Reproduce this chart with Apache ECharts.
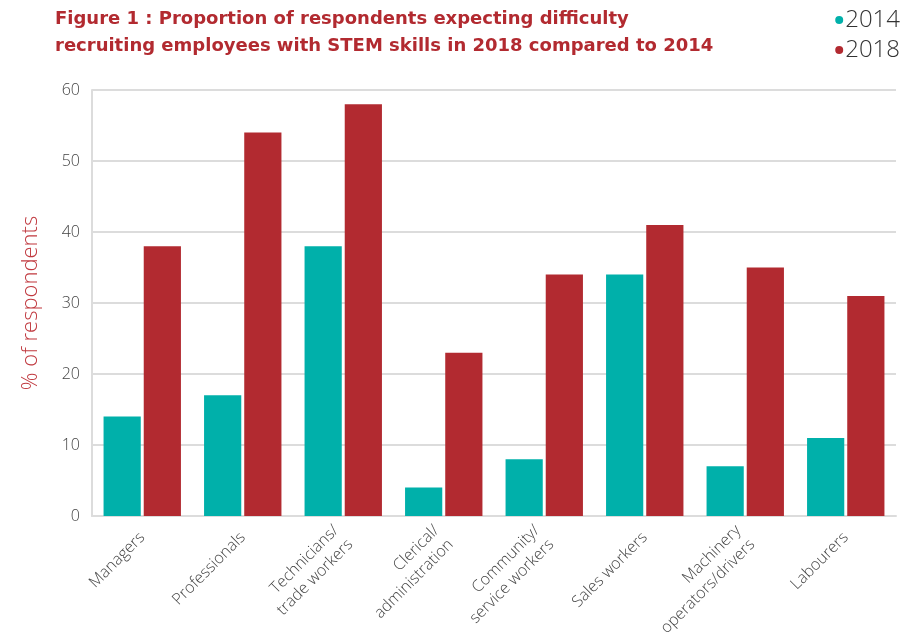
<!DOCTYPE html>
<html>
<head>
<meta charset="utf-8">
<script src="https://cdn.jsdelivr.net/npm/echarts@6/dist/echarts.min.js"></script>
<style>html,body{margin:0;padding:0;background:#fff}#c{width:917px;height:636px}</style>
</head>
<body>
<div id="c"></div>
<script>
const categories = ['Managers', 'Professionals', 'Technicians/\ntrade workers', 'Clerical/\nadministration', 'Community/\nservice workers', 'Sales workers', 'Machinery\noperators/drivers', 'Labourers'];
const values2014 = [14, 17, 38, 4, 8, 34, 7, 11];
const values2018 = [38, 54, 58, 23, 34, 41, 35, 31];
const yTicks = [0, 10, 20, 30, 40, 50, 60];

const chart = echarts.init(document.getElementById('c'));
chart.setOption({
  animation: false,
  title: {
    text: 'Figure 1 : Proportion of respondents expecting difficulty\nrecruiting employees with STEM skills in 2018 compared to 2014',
    left: 50, top: 1,
    textStyle: { fontFamily: 'DejaVu Sans', fontWeight: 'bold', fontSize: 18, lineHeight: 27, color: '#b22a30' }
  },
  legend: {
    orient: 'vertical', right: 12, top: 3,
    icon: 'circle', itemWidth: 8, itemHeight: 8, itemGap: 6, align: 'left',
    textStyle: { fontFamily: 'Open Sans', fontWeight: 300, fontSize: 24, color: '#333', padding: [0, 0, 0, -3] },
    data: ['2014', '2018']
  },
  grid: { left: 92, right: 21, top: 90, bottom: 120, containLabel: false, outerBoundsMode: 'none' },
  xAxis: {
    type: 'category', data: categories,
    axisLine: { lineStyle: { color: '#dcdcdc', width: 2 } },
    axisTick: { show: false },
    axisLabel: { rotate: 45, interval: 0, margin: 19, fontFamily: 'Open Sans', fontWeight: 300, fontSize: 16, color: '#444', lineHeight: 20 }
  },
  yAxis: {
    type: 'value', min: 0, max: 60, interval: 10,
    name: '% of respondents', nameLocation: 'middle', nameGap: 50,
    nameTextStyle: { fontFamily: 'Open Sans', fontWeight: 300, fontSize: 22, color: '#c0393f' },
    axisLine: { show: true, lineStyle: { color: '#dcdcdc', width: 2 } },
    axisTick: { show: false },
    splitLine: { lineStyle: { color: '#dcdcdc', width: 2 } },
    axisLabel: { margin: 12, fontFamily: 'Open Sans', fontWeight: 300, fontSize: 16, color: '#444',
      formatter: v => yTicks.includes(v) ? String(v) : '' }
  },
  series: [
    { name: '2014', type: 'bar', data: values2014, itemStyle: { color: '#00b0aa' }, barGap: '8%', barCategoryGap: '23%' },
    { name: '2018', type: 'bar', data: values2018, itemStyle: { color: '#b22a30' }, barGap: '8%', barCategoryGap: '23%' }
  ]
});
</script>
</body>
</html>
